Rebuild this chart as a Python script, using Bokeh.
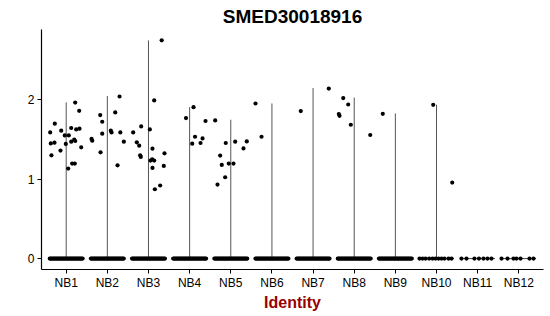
from bokeh.plotting import figure
from bokeh.models import Range1d, FixedTicker, Title
from bokeh.embed import file_html
from bokeh.resources import INLINE

categories = ["NB1", "NB2", "NB3", "NB4", "NB5", "NB6", "NB7", "NB8", "NB9", "NB10", "NB11", "NB12"]
violin_max = [1.97, 2.05, 2.75, 1.91, 1.75, 1.955, 2.15, 2.03, 1.83, 1.94, 0.0, 0.0]

# non-zero cells: jitter offsets and expression values
jit_NB1 = [0.219, 0.316, -0.277, -0.389, -0.121, 0.122, 0.243, 0.323, -0.034, 0.063, 0.195, 0.219, 0.122, -0.374, -0.284, -0.009, 0.365, -0.139, -0.358, 0.146, 0.209, 0.049]
expr_NB1 = [1.967, 1.863, 1.700, 1.590, 1.612, 1.646, 1.628, 1.637, 1.553, 1.553, 1.499, 1.482, 1.474, 1.452, 1.461, 1.445, 1.402, 1.361, 1.302, 1.197, 1.197, 1.134]
jit_NB2 = [0.297, 0.192, -0.173, -0.124, 0.085, 0.102, -0.124, 0.316, -0.384, -0.367, 0.401, -0.165, 0.248]
expr_NB2 = [2.043, 1.842, 1.809, 1.725, 1.612, 1.590, 1.574, 1.590, 1.508, 1.486, 1.474, 1.339, 1.176]
jit_NB3 = [0.321, 0.139, -0.177, -0.372, 0.032, -0.284, -0.226, 0.097, 0.389, -0.202, -0.187, 0.049, 0.090, 0.139, 0.097, 0.372, 0.284, 0.155]
expr_NB3 = [2.751, 1.993, 1.666, 1.590, 1.628, 1.465, 1.423, 1.386, 1.327, 1.302, 1.281, 1.235, 1.251, 1.235, 1.143, 1.168, 0.921, 0.874]
jit_NB4 = [0.095, -0.088, 0.386, 0.131, 0.063, 0.265, 0.314]
expr_NB4 = [1.908, 1.771, 1.734, 1.536, 1.448, 1.457, 1.515]
jit_NB5 = [-0.379, -0.122, 0.107, 0.389, 0.309, -0.258, -0.219, -0.049, 0.066, -0.136, -0.323]
expr_NB5 = [1.741, 1.457, 1.474, 1.477, 1.389, 1.298, 1.181, 1.197, 1.197, 1.025, 0.933]
jit_NB6 = [-0.399, -0.253]
expr_NB6 = [1.955, 1.536]
jit_NB7 = [-0.299, 0.382]
expr_NB7 = [1.859, 2.143]
jit_NB8 = [-0.267, -0.146, -0.374, -0.357, -0.083, 0.389]
expr_NB8 = [2.023, 1.942, 1.822, 1.800, 1.687, 1.558]
jit_NB9 = [-0.306]
expr_NB9 = [1.825]
jit_NB10 = [-0.080, 0.382]
expr_NB10 = [1.938, 0.958]
jit_NB11 = []
expr_NB11 = []
jit_NB12 = []
expr_NB12 = []

# zero-expression cells: jitter offsets (dense band for NB1-NB9)
zero_jit_dense = [-0.40, -0.375, -0.35, -0.325, -0.30, -0.275, -0.25, -0.225, -0.20, -0.175, -0.15, -0.125, -0.10, -0.075, -0.05, -0.025, 0.0,
                  0.025, 0.05, 0.075, 0.10, 0.125, 0.15, 0.175, 0.20, 0.225, 0.25, 0.275, 0.30, 0.325, 0.35, 0.375, 0.40]
zero_jit_NB10 = [-0.413, -0.34, -0.267, -0.18, -0.097, -0.024, 0.049, 0.122, 0.194, 0.292, 0.365]
zero_jit_NB11 = [-0.394, -0.272, -0.078, 0.032, 0.141, 0.238, 0.335]
zero_jit_NB12 = [-0.42, -0.275, -0.129, -0.056, 0.041, 0.260, 0.357]

nz_jit = [jit_NB1, jit_NB2, jit_NB3, jit_NB4, jit_NB5, jit_NB6, jit_NB7, jit_NB8, jit_NB9, jit_NB10, jit_NB11, jit_NB12]
nz_expr = [expr_NB1, expr_NB2, expr_NB3, expr_NB4, expr_NB5, expr_NB6, expr_NB7, expr_NB8, expr_NB9, expr_NB10, expr_NB11, expr_NB12]
zero_jit = [zero_jit_dense] * 9 + [zero_jit_NB10, zero_jit_NB11, zero_jit_NB12]

p = figure(width=550, height=316, output_backend="svg", toolbar_location=None,
           x_range=Range1d(0.4, 12.6), y_range=Range1d(-0.1375, 2.8875),
           min_border_left=41, min_border_right=7, min_border_bottom=47, min_border_top=2)

p.add_layout(Title(text="SMED30018916", text_font="Liberation Sans", text_font_size="19px",
                   text_font_style="bold", text_color="black", align="center", standoff=6), "above")

pos = list(range(1, len(categories) + 1))

# violins (degenerate, thin vertical lines)
vx = [c for c, m in zip(pos, violin_max) if m > 0]
vtop = [m for m in violin_max if m > 0]
p.segment(x0=vx, y0=[0] * len(vx), x1=vx, y1=vtop, line_color="#555555", line_width=1)
p.segment(x0=[c - 0.42 for c in pos], y0=[0] * len(pos), x1=[c + 0.42 for c in pos], y1=[0] * len(pos),
          line_color="#444444", line_width=1)

xs, ys = [], []
for c, js, es in zip(pos, nz_jit, nz_expr):
    xs += [c + j for j in js]
    ys += list(es)
for c, js in zip(pos, zero_jit):
    xs += [c + j for j in js]
    ys += [0.0] * len(js)
p.scatter(x=xs, y=ys, size=4.2, fill_color="black", line_color=None)

p.xaxis.ticker = FixedTicker(ticks=pos)
p.xaxis.major_label_overrides = {c: n for c, n in zip(pos, categories)}
p.yaxis.ticker = FixedTicker(ticks=[0, 1, 2])
p.xaxis.axis_label = "Identity"
p.xaxis.axis_label_text_font = "Liberation Sans"
p.xaxis.axis_label_text_font_size = "16px"
p.xaxis.axis_label_text_font_style = "bold"
p.xaxis.axis_label_text_color = "#990000"

for ax in (p.xaxis, p.yaxis):
    ax.axis_line_color = "black"
    ax.axis_line_width = 1.2
    ax.major_tick_line_color = "black"
    ax.major_tick_out = 4
    ax.major_tick_in = 0
    ax.minor_tick_line_color = None
    ax.major_label_text_font = "Liberation Sans"
    ax.major_label_text_font_size = "12px"
    ax.major_label_text_color = "black"
    ax.major_label_standoff = 3

p.xaxis.major_label_standoff = 2
p.xaxis.axis_label_standoff = 1

p.xgrid.grid_line_color = None
p.ygrid.grid_line_color = None
p.outline_line_color = None
p.background_fill_color = "white"
p.border_fill_color = "white"

open("out.html", "w").write(file_html(p, INLINE))
